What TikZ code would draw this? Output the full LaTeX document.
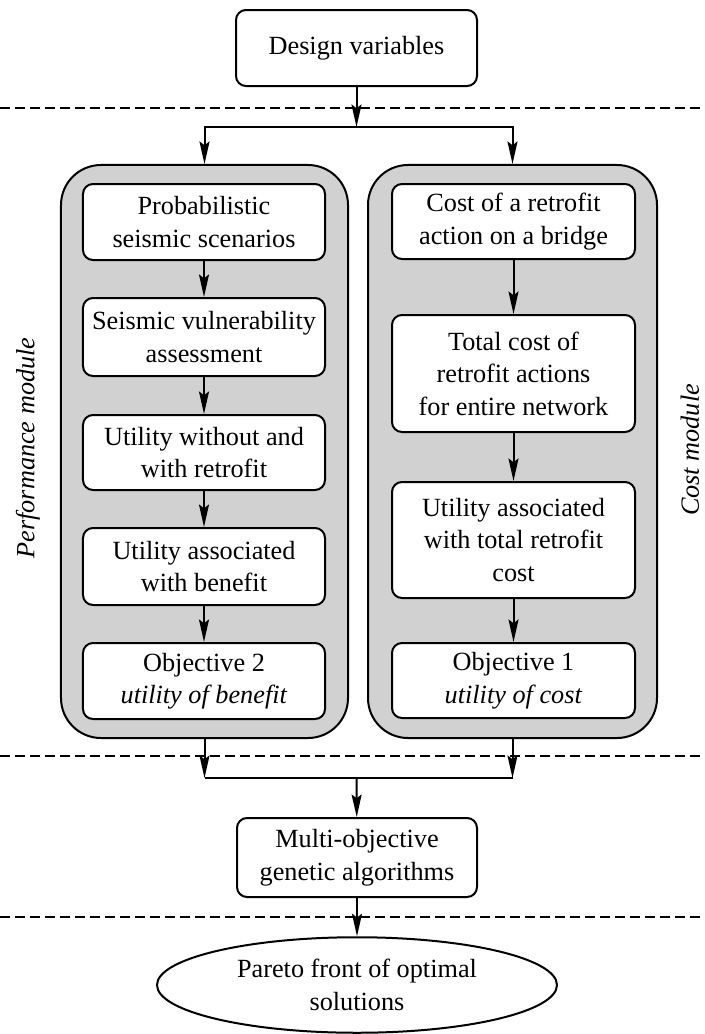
\documentclass[tikz,border=0pt]{standalone}
\usepackage{fontspec}
\setmainfont{Liberation Serif}
\usetikzlibrary{arrows.meta,shapes.geometric}
\begin{document}
\begin{tikzpicture}[x=0.4pt,y=-0.4pt,
  font=\fontsize{10.5}{13}\selectfont,
  box/.style={draw, line width=0.8pt, rounded corners=4pt, fill=white, align=center,
    inner sep=0pt, minimum width=96.8pt, minimum height=30.4pt},
  module/.style={draw, line width=0.8pt, rounded corners=16pt, fill=black!18,
    minimum height=229.2pt},
  arr/.style={line width=0.8pt, -{Stealth[length=9pt,width=4pt,inset=1.5pt]}},
  sep/.style={line width=0.8pt, dash pattern=on 4pt off 2pt},
  side/.style={rotate=90, inner sep=1pt, font=\fontsize{10.5}{13}\selectfont\itshape}]
  \useasboundingbox (0,0) rectangle (705,1034);
  \draw[sep] (0,108) -- (705,108);
  \draw[sep] (0,756) -- (705,756);
  \draw[sep] (0,917) -- (705,917);
  \node[box, minimum width=96.4pt] (design) at (356.5,48) {Design variables};
  \node[module, minimum width=114.8pt] (perfmod) at (204.5,451.5) {};
  \node[module, minimum width=115.6pt] (costmod) at (512.5,451.5) {};
  \node[side] (perflabel) at (28,448) {Performance module};
  \node[side] (costlabel) at (690,450) {Cost module};
  \node[box] (probab) at (204,222) {Probabilistic\\seismic scenarios};
  \node[box, minimum height=31.2pt] (vuln) at (204,337) {Seismic vulnerability\\assessment};
  \node[box, minimum height=30pt] (utilretro) at (204,452.5) {Utility without and\\with retrofit};
  \node[box, minimum height=30.8pt] (utilbenefit) at (204,566.5) {Utility associated\\with benefit};
  \node[box] (obj2) at (204,681) {Objective 2\\\textit{utility of benefit}};
  \node[box, minimum width=97.2pt, minimum height=30pt] (costbridge) at (513.5,221.5) {Cost of a retrofit\\action on a bridge};
  \node[box, minimum width=97.2pt, minimum height=46.8pt] (totalcost) at (513.5,373.5) {Total cost of\\retrofit actions\\for entire network};
  \node[box, minimum width=97.2pt, minimum height=46.4pt] (utilcost) at (513.5,540) {Utility associated\\with total retrofit\\cost};
  \node[box, minimum width=97.2pt, minimum height=30pt] (obj1) at (513.5,680.5) {Objective 1\\\textit{utility of cost}};
  \node[box, minimum width=96pt, minimum height=31.6pt] (moga) at (357,857.5) {Multi-objective\\genetic algorithms};
  \node[ellipse, draw, line width=0.8pt, align=center, inner sep=0pt,
    minimum width=160pt, minimum height=38.2pt] (pareto) at (357,985) {Pareto front of optimal\\solutions};
  \coordinate (topj) at (356.5,127);
  \coordinate (botj) at (356.5,778);
  \draw[arr] (design) -- (topj);
  \draw[arr] (topj) -| (perfmod.north);
  \draw[arr] (topj) -| (costmod.north);
  \draw[arr] (probab) -- (vuln);
  \draw[arr] (vuln) -- (utilretro);
  \draw[arr] (utilretro) -- (utilbenefit);
  \draw[arr] (utilbenefit) -- (obj2);
  \draw[arr] (costbridge) -- (totalcost);
  \draw[arr] (totalcost) -- (utilcost);
  \draw[arr] (utilcost) -- (obj1);
  \draw[arr] (perfmod.south) -- (perfmod.south |- botj);
  \draw[arr] (costmod.south) -- (costmod.south |- botj);
  \draw[line width=0.8pt] (perfmod.south |- botj) -- (costmod.south |- botj);
  \draw[arr] (botj) -- (moga);
  \draw[arr] (moga) -- (pareto);
\end{tikzpicture}
\end{document}
